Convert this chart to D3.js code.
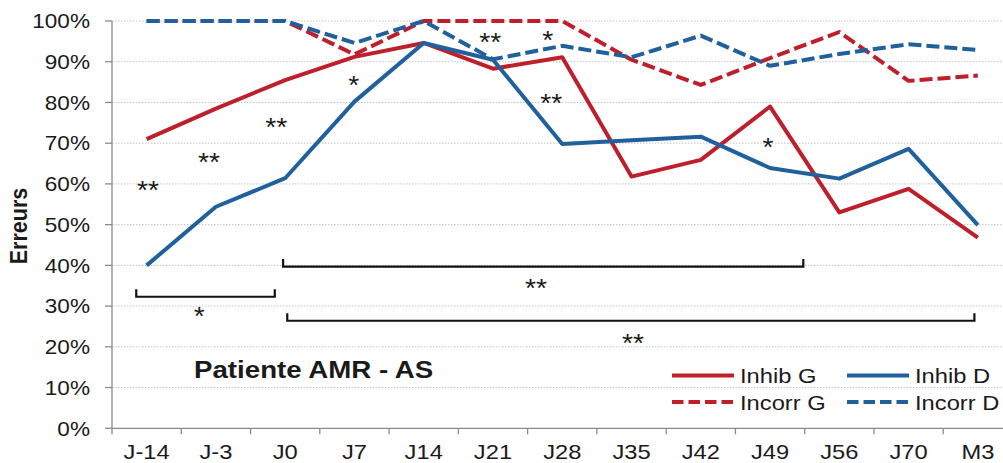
<!DOCTYPE html>
<html>
<head>
<meta charset="utf-8">
<script src="https://cdn.jsdelivr.net/npm/d3@7"></script>
<style>
  body { margin: 0; background: #fff; }
  svg { display: block; }
  text { font-family: "Liberation Sans", Arial, sans-serif; fill: #1a1a1a; }
</style>
</head>
<body>
<svg id="chart" width="1003" height="463"></svg>
<script>
// ---- data ----
const categories = ["J-14", "J-3", "J0", "J7", "J14", "J21", "J28", "J35", "J42", "J49", "J56", "J70", "M3"];
const yTicks = [0, 10, 20, 30, 40, 50, 60, 70, 80, 90, 100];

const inhibG  = [71.0, 78.5, 85.5, 91.2, 94.6, 88.3, 91.1, 61.8, 65.9, 79.0, 53.0, 58.8, 46.8];
const inhibD  = [40.0, 54.4, 61.4, 80.2, 94.6, 90.5, 69.8, 70.7, 71.6, 63.9, 61.3, 68.6, 49.9];
const incorrG = [100, 100, 100, 91.8, 100, 100, 100, 90.5, 84.3, 90.9, 97.3, 85.3, 86.6];
const incorrD = [100, 100, 100, 94.6, 100, 90.6, 93.9, 91.1, 96.4, 89.0, 91.9, 94.3, 92.9];

const seriesNames = ["Inhib G", "Inhib D", "Incorr G", "Incorr D"];

// significance marks: text, position along categories (index), level (%)
const starText  = ["**", "**", "**", "*", "**", "*", "**", "*", "*", "**", "**"];
const starIndex = [0.02, 0.90, 1.87, 2.99, 4.96, 5.79, 5.84, 8.97, 0.76, 5.62, 7.02];
const starLevel = [59.7, 66.6, 75.2, 85.5, 96.1, 96.6, 81.1, 70.3, 28.8, 35.7, 22.2];

// comparison brackets: start / end (category index), level (%)
const bracketFrom  = [-0.15, 1.97, 2.03];
const bracketTo    = [1.85, 9.48, 11.95];
const bracketLevel = [32.3, 39.7, 26.4];

const chartTitle = "Patiente AMR - AS";
const yTitle = "Erreurs";

(function draw() {
  // ---- layout ----
  const W = 1003;
  const plotLeft = 112, plotRight = 1012.5, plotTop = 21, plotBottom = 428.3;
  const SX = 1.13;            // horizontal text stretch
  const RED = "#BF1E2B", BLUE = "#20609C";

  const svg = d3.select("#chart");

  const x = d3.scaleBand().domain(categories).range([plotLeft, plotRight]).paddingInner(0).paddingOuter(0);
  const xc = c => x(c) + x.bandwidth() / 2;
  const xi = d3.scaleLinear().domain([0, categories.length - 1])
    .range([xc(categories[0]), xc(categories[categories.length - 1])]);
  const y = d3.scaleLinear().domain([0, 100]).range([plotBottom, plotTop]);

  function stretched(sel, px, py, anchor) {
    return sel.attr("text-anchor", anchor)
      .attr("transform", `translate(${px},${py}) scale(${SX},1)`);
  }

  // gridlines
  svg.append("g").selectAll("line").data(yTicks.filter(t => t > 0)).join("line")
    .attr("x1", plotLeft).attr("x2", W)
    .attr("y1", d => y(d)).attr("y2", d => y(d))
    .attr("stroke", "#c4c4c4").attr("stroke-width", 1)
    .attr("stroke-dasharray", "1.5,1.5");

  // axes
  const axisColor = "#8a8a8a";
  svg.append("line").attr("x1", plotLeft).attr("x2", plotLeft).attr("y1", y(100)).attr("y2", plotBottom)
    .attr("stroke", axisColor).attr("stroke-width", 1.3);
  svg.append("line").attr("x1", plotLeft).attr("x2", W).attr("y1", plotBottom).attr("y2", plotBottom)
    .attr("stroke", axisColor).attr("stroke-width", 1.3);

  // y ticks + labels
  svg.append("g").selectAll("line").data(yTicks).join("line")
    .attr("x1", plotLeft - 7).attr("x2", plotLeft).attr("y1", d => y(d)).attr("y2", d => y(d))
    .attr("stroke", axisColor).attr("stroke-width", 1.3);
  svg.append("g").selectAll("text").data(yTicks).join("text")
    .each(function (d) { stretched(d3.select(this), 90, y(d) + 7.2, "end"); })
    .style("font-size", "20px")
    .text(d => d + "%");

  // x ticks (category boundaries) + labels
  const boundaries = categories.map(c => x(c)).concat([plotRight]);
  svg.append("g").selectAll("line").data(boundaries).join("line")
    .attr("x1", d => d).attr("x2", d => d).attr("y1", plotBottom).attr("y2", plotBottom + 6)
    .attr("stroke", axisColor).attr("stroke-width", 1.3);
  svg.append("g").selectAll("text").data(categories).join("text")
    .each(function (d) { stretched(d3.select(this), xc(d), 458.5, "middle"); })
    .style("font-size", "21px")
    .text(d => d);

  // y title
  svg.append("text")
    .attr("text-anchor", "middle")
    .attr("transform", `translate(27,226) rotate(-90) scale(1,${SX})`)
    .style("font-size", "21.5px").style("font-weight", "bold")
    .text(yTitle);

  // series
  const series = [
    { name: seriesNames[0], values: inhibG,  color: RED,  dash: null },
    { name: seriesNames[1], values: inhibD,  color: BLUE, dash: null },
    { name: seriesNames[2], values: incorrG, color: RED,  dash: "13,5" },
    { name: seriesNames[3], values: incorrD, color: BLUE, dash: "13,5" }
  ];
  const line = d3.line().x((d, i) => xc(categories[i])).y(d => y(d));
  svg.append("g").selectAll("path").data(series).join("path")
    .attr("d", s => line(s.values))
    .attr("fill", "none")
    .attr("stroke", s => s.color)
    .attr("stroke-width", 4)
    .attr("stroke-linejoin", "round")
    .attr("stroke-dasharray", s => s.dash);

  // brackets
  const bracketTick = 7.5;
  svg.append("g").selectAll("path").data(bracketFrom).join("path")
    .attr("d", (d, i) => {
      const x0 = xi(d), x1 = xi(bracketTo[i]), yy = y(bracketLevel[i]);
      return `M${x0},${yy - bracketTick}V${yy}H${x1}V${yy - bracketTick}`;
    })
    .attr("fill", "none").attr("stroke", "#111").attr("stroke-width", 2.2);

  // significance marks
  svg.append("g").selectAll("text").data(starText).join("text")
    .each(function (d, i) { stretched(d3.select(this), xi(starIndex[i]), y(starLevel[i]) + 14, "middle"); })
    .style("font-size", "25px")
    .text(d => d);

  // title
  stretched(svg.append("text"), 194, 377.5, "start")
    .style("font-size", "24.5px").style("font-weight", "bold")
    .text(chartTitle);

  // legend
  const legendX = [672, 847];
  const legendY = [375.5, 402];
  const lg = svg.append("g");
  series.forEach((s, i) => {
    const col = i % 2, row = Math.floor(i / 2);
    const lx = legendX[col], ly = legendY[row];
    lg.append("line")
      .attr("x1", lx).attr("x2", lx + 62).attr("y1", ly).attr("y2", ly)
      .attr("stroke", s.color).attr("stroke-width", 4)
      .attr("stroke-dasharray", s.dash ? "11.5,5" : null);
    stretched(lg.append("text"), lx + 68, ly + 7.5, "start")
      .style("font-size", "21px")
      .text(s.name);
  });
})();
</script>
</body>
</html>
